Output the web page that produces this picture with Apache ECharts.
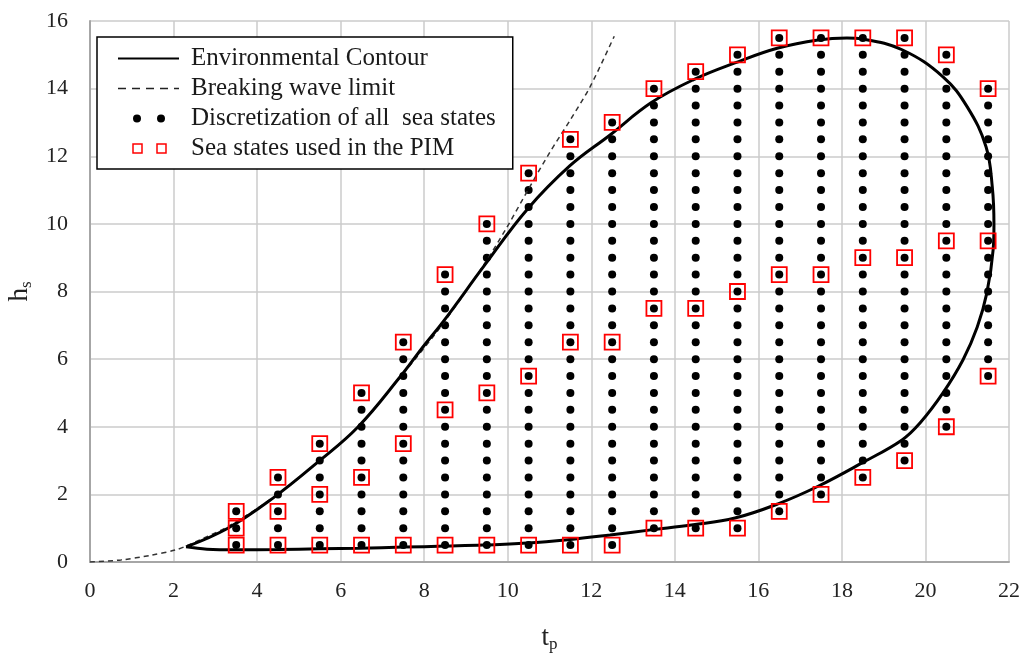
<!DOCTYPE html>
<html>
<head>
<meta charset="utf-8">
<script src="https://cdn.jsdelivr.net/npm/echarts@6.0.0/dist/echarts.min.js"></script>
<style>
  html, body { margin: 0; padding: 0; background: #fff; }
  #chart { width: 1023px; height: 653px; }
</style>
</head>
<body>
<div id="chart"></div>
<script>
// environmental contour, traced from the tip along the lower branch and back
const contourTp = [2.3, 2.8, 3.47, 4.5, 5.5, 6.46, 7.5, 8.5, 9.41, 10.46, 11.44, 12.45, 13.43, 14.44, 15.44, 16.47, 17.43, 18.48, 19.44, 19.87, 20.42, 20.9, 21.24, 21.47, 21.62, 21.64, 21.6, 21.45, 21.0, 20.42, 19.44, 18.48, 18.12, 17.43, 16.47, 15.44, 14.44, 13.43, 12.45, 11.49, 10.46, 9.46, 8.45, 7.97, 7.42, 6.42, 5.46, 4.38, 3.3, 2.3];
const contourHs = [0.45, 0.38, 0.36, 0.37, 0.39, 0.41, 0.44, 0.47, 0.5, 0.56, 0.66, 0.8, 0.95, 1.1, 1.3, 1.72, 2.24, 2.93, 3.61, 4.11, 5.0, 5.98, 6.95, 7.96, 9.23, 9.97, 11.09, 12.28, 13.46, 14.35, 15.15, 15.47, 15.5, 15.44, 15.2, 14.76, 14.26, 13.58, 12.63, 11.72, 10.42, 8.8, 7.1, 6.36, 5.47, 4.0, 2.96, 1.89, 1.0, 0.45];

// breaking wave limit
const breakTp = [0, 0.74, 1.46, 2.06, 2.35, 3.3, 4.38, 5.46, 6.42, 7.42, 8.45, 9.46, 9.98, 10.53, 11.0, 11.5, 11.97, 12.55];
const breakHs = [0, 0.06, 0.2, 0.36, 0.5, 1.05, 1.9, 2.95, 4.0, 5.45, 7.05, 8.85, 9.9, 11.1, 12.1, 13.08, 14.05, 15.55];

// discretization: one column per tp, dots every 0.5 m between the lowest and highest read hs
const dotColumns = [3.5, 4.5, 5.5, 6.5, 7.5, 8.5, 9.5, 10.5, 11.5, 12.5, 13.5, 14.5, 15.5, 16.5, 17.5, 18.5, 19.5, 20.5, 21.5];
const dotLow = [0.5, 0.5, 0.5, 0.5, 0.5, 0.5, 0.5, 0.5, 0.5, 0.5, 1.0, 1.0, 1.0, 1.5, 2.0, 2.5, 3.0, 4.0, 5.5];
const dotHigh = [1.5, 2.5, 3.5, 5.0, 6.5, 8.5, 10.0, 11.5, 12.5, 13.0, 14.0, 14.5, 15.0, 15.5, 15.5, 15.5, 15.5, 15.0, 14.0];
const hsStep = 0.5;

// sea states used in the PIM
const pimTp = [3.5, 3.5, 3.5, 4.5, 4.5, 4.5, 5.5, 5.5, 5.5, 6.5, 6.5, 6.5, 7.5, 7.5, 7.5, 8.5, 8.5, 8.5, 9.5, 9.5, 9.5, 10.5, 10.5, 10.5, 11.5, 11.5, 11.5, 12.5, 12.5, 12.5, 13.5, 13.5, 13.5, 14.5, 14.5, 14.5, 15.5, 15.5, 15.5, 16.5, 16.5, 16.5, 17.5, 17.5, 17.5, 18.5, 18.5, 18.5, 19.5, 19.5, 19.5, 20.5, 20.5, 20.5, 21.5, 21.5, 21.5];
const pimHs = [0.5, 1.0, 1.5, 0.5, 1.5, 2.5, 0.5, 2.0, 3.5, 0.5, 2.5, 5.0, 0.5, 3.5, 6.5, 0.5, 4.5, 8.5, 0.5, 5.0, 10.0, 0.5, 5.5, 11.5, 0.5, 6.5, 12.5, 0.5, 6.5, 13.0, 1.0, 7.5, 14.0, 1.0, 7.5, 14.5, 1.0, 8.0, 15.0, 1.5, 8.5, 15.5, 2.0, 8.5, 15.5, 2.5, 9.0, 15.5, 3.0, 9.0, 15.5, 4.0, 9.5, 15.0, 5.5, 9.5, 14.0];

const names = ["Environmental Contour", "Breaking wave limit", "Discretization of all  sea states", "Sea states used in the PIM"];

const zip = (a, b) => a.map((v, i) => [v, b[i]]);
const dots = [];
dotColumns.forEach((tp, i) => {
  for (let hs = dotLow[i]; hs <= dotHigh[i] + 1e-9; hs += hsStep) dots.push([tp, hs]);
});

const serif = "Liberation Serif";
const chart = echarts.init(document.getElementById("chart"));

function axis(min, max, name, gap, rotate, labelMargin) {
  return {
    type: "value",
    min, max, interval: 2,
    name, nameLocation: "middle", nameGap: gap, nameRotate: rotate,
    nameTextStyle: { rich: nameRich },
    axisLine: { show: true, lineStyle: { color: "#a6a6a6", width: 2 } },
    axisTick: { show: false },
    axisLabel: { color: "#222", fontFamily: serif, fontSize: 22, margin: labelMargin },
    splitLine: { show: true, lineStyle: { color: "#cbcbcb", width: 1.5 } },
  };
}

const nameRich = {
  m: { fontFamily: serif, fontSize: 27, color: "#222", lineHeight: 30 },
  s: { fontFamily: serif, fontSize: 17, color: "#222", lineHeight: 12, verticalAlign: "bottom" },
};

// hide the symbol that line series put in the middle of their legend icon
const noSymbol = { color: "rgba(0,0,0,0)", borderWidth: 0, opacity: 0 };

chart.setOption({
  animation: false,
  backgroundColor: "#fff",
  grid: { left: 90, right: 14, top: 21, bottom: 91, outerBoundsMode: "none" },
  xAxis: axis(0, 22, "{m|t}{s|p}", 61, 0, 18),
  yAxis: axis(0, 16, "{m|h}{s|s}", 46, 90, 22),
  legend: {
    orient: "vertical",
    left: 97, top: 37,
    padding: [9, 17, 8, 20],
    itemGap: 5,
    itemWidth: 61,
    itemHeight: 9,
    backgroundColor: "#fff",
    borderColor: "#000",
    borderWidth: 1.5,
    borderRadius: 0,
    textStyle: { fontFamily: serif, fontSize: 25, color: "#1a1a1a", padding: [0, 0, 0, 7] },
    data: [
      { name: names[0], lineStyle: { width: 2, color: "#000" }, itemStyle: noSymbol },
      { name: names[1], lineStyle: { width: 1.5, color: "#222", type: [8, 6] }, itemStyle: noSymbol },
      { name: names[2], icon: "path://M0 0M61 9M15 4.5a4 4 0 1 0 8 0a4 4 0 1 0 -8 0ZM39 4.5a4 4 0 1 0 8 0a4 4 0 1 0 -8 0Z" },
      { name: names[3], icon: "path://M0 0M61 9M15 0h9v9h-9zM39 0h9v9h-9z", itemStyle: { borderWidth: 1.5 } },
    ],
  },
  series: [
    {
      name: names[2], type: "scatter", data: dots,
      symbol: "circle", symbolSize: 8,
      itemStyle: { color: "#000", opacity: 1 }, z: 2,
    },
    {
      name: names[1], type: "line", data: zip(breakTp, breakHs),
      symbol: "none", smooth: 0.3,
      lineStyle: { color: "#333", width: 1.5, type: [5, 4] }, z: 3,
    },
    {
      name: names[0], type: "line", data: zip(contourTp, contourHs),
      symbol: "none", smooth: 0.4,
      lineStyle: { color: "#000", width: 3 }, itemStyle: { color: "#000" }, z: 4,
    },
    {
      name: names[3], type: "scatter", data: zip(pimTp, pimHs),
      symbol: "rect", symbolSize: 15,
      itemStyle: { color: "rgba(0,0,0,0)", borderColor: "#ff0000", borderWidth: 1.8, opacity: 1 }, z: 5,
    },
  ],
});
</script>
</body>
</html>
